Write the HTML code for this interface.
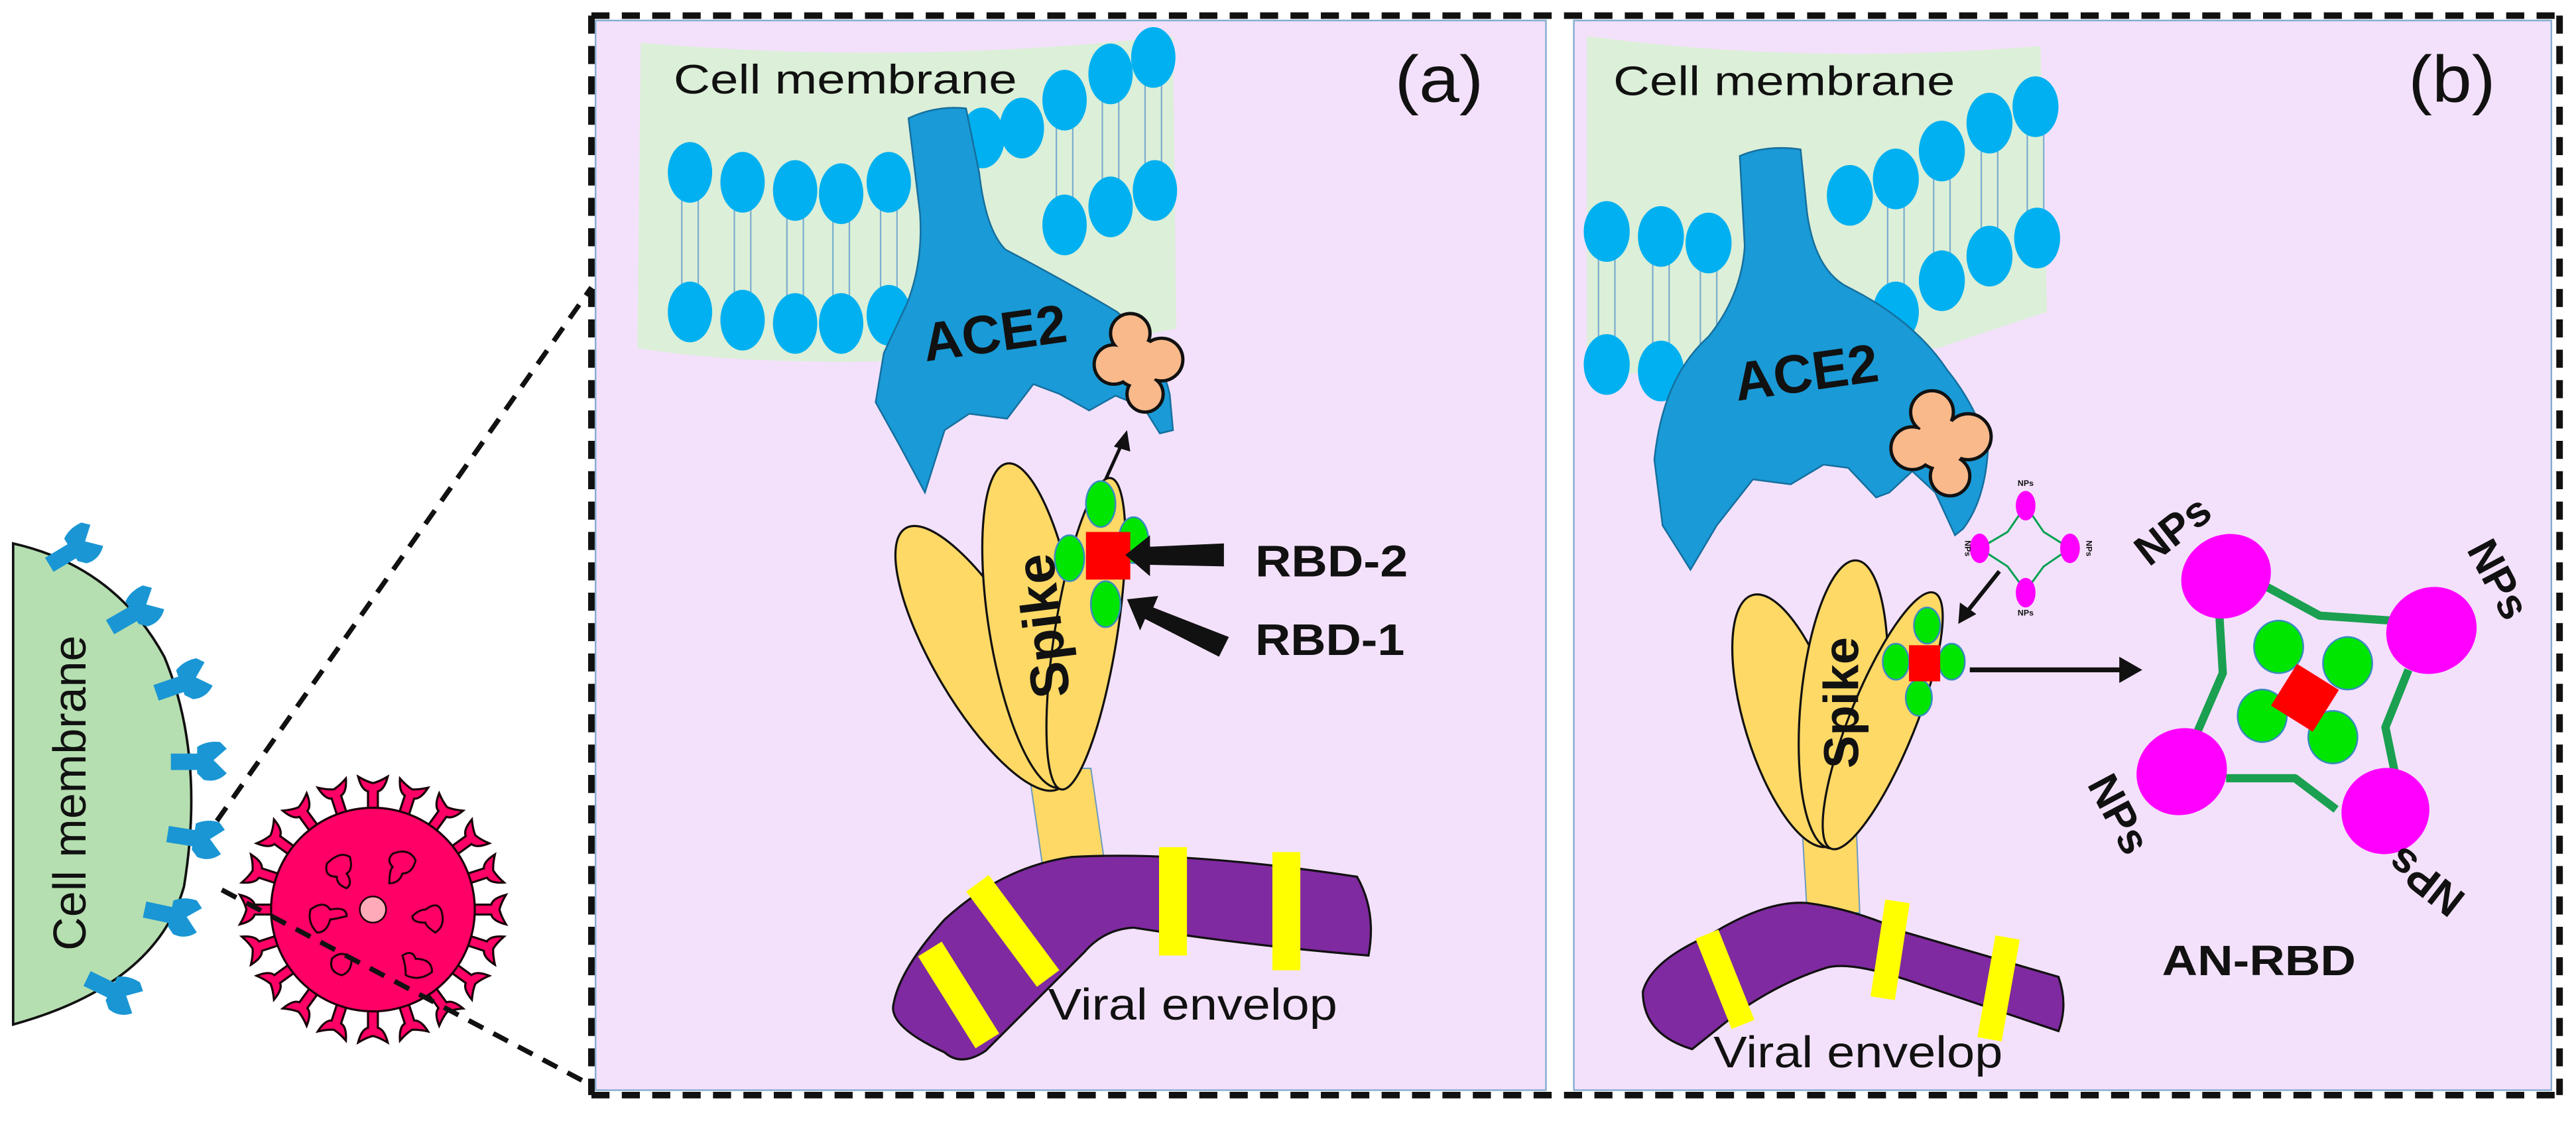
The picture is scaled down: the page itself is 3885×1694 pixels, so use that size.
<!DOCTYPE html>
<html><head><meta charset="utf-8"><style>
html,body{margin:0;padding:0;background:#fff;}
svg{display:block;}
text{font-family:"Liberation Sans",Arial,sans-serif;}
</style></head><body>
<svg width="3885" height="1694" viewBox="0 0 1568 684" preserveAspectRatio="none" xmlns="http://www.w3.org/2000/svg">
<defs>
<path id="vs" d="M-3,-58 L-3,-72 Q-7,-73 -9,-81 Q-4,-78 0,-77 Q4,-78 9,-81 Q7,-73 3,-72 L3,-58 Z" fill="#ff0066" stroke="#1a0008" stroke-width="1.3"/>
<g id="rc">
<rect x="0" y="-5" width="18" height="10" fill="#1a96d4"/>
<path d="M16,-9 Q22,-13 30,-12 L34,-8 L26,-1 L34,7 Q28,13 20,11 L16,7 Z" fill="#1a96d4"/>
</g>
</defs>

<!-- left cell -->
<path d="M8,331 Q70,345 100,400 Q125,460 112,540 Q95,600 8,624 Z" fill="#b5dfb0" stroke="#111" stroke-width="1.5"/>
<text transform="translate(52,483) rotate(-90)" font-size="28" text-anchor="middle" textLength="192" lengthAdjust="spacingAndGlyphs" fill="#111">Cell membrane</text>
<use href="#rc" transform="translate(30,344) rotate(-31)"/>
<use href="#rc" transform="translate(67,382) rotate(-30)"/>
<use href="#rc" transform="translate(95,422) rotate(-19)"/>
<use href="#rc" transform="translate(104,464) rotate(0)"/>
<use href="#rc" transform="translate(102,508) rotate(9)"/>
<use href="#rc" transform="translate(88,554) rotate(12)"/>
<use href="#rc" transform="translate(53,596) rotate(26)"/>

<!-- virus -->
<g transform="translate(227,554)">
<use href="#vs" transform="rotate(0)"/><use href="#vs" transform="rotate(18)"/><use href="#vs" transform="rotate(36)"/><use href="#vs" transform="rotate(54)"/><use href="#vs" transform="rotate(72)"/><use href="#vs" transform="rotate(90)"/><use href="#vs" transform="rotate(108)"/><use href="#vs" transform="rotate(126)"/><use href="#vs" transform="rotate(144)"/><use href="#vs" transform="rotate(162)"/><use href="#vs" transform="rotate(180)"/><use href="#vs" transform="rotate(198)"/><use href="#vs" transform="rotate(216)"/><use href="#vs" transform="rotate(234)"/><use href="#vs" transform="rotate(252)"/><use href="#vs" transform="rotate(270)"/><use href="#vs" transform="rotate(288)"/><use href="#vs" transform="rotate(306)"/><use href="#vs" transform="rotate(324)"/><use href="#vs" transform="rotate(342)"/>
<circle r="62" fill="#ff0066" stroke="#1a0008" stroke-width="1.3"/>
<g fill="none" stroke="#1a0008" stroke-width="1.2">
<path d="M-28,-28 q8,-8 14,-4 q2,8 -2,10 q4,6 0,9 q-6,-2 -6,-7 q-8,0 -6,-8z"/>
<path d="M12,-34 q10,-4 14,4 q-2,8 -8,8 q-2,6 -8,6 q0,-8 2,-10 q-4,-4 0,-8z"/>
<path d="M-38,0 q8,-6 12,0 q10,-2 10,4 q-8,2 -10,2 q-2,8 -8,8 q-6,-6 -4,-14z"/>
<path d="M32,0 q8,-6 10,2 q2,8 -4,12 q-6,-4 -6,-6 q-8,0 -8,-4 q4,-4 8,-4z"/>
<path d="M-25,30 q6,-6 12,0 q0,8 -6,10 q-8,-2 -6,-10z"/>
<path d="M18,28 q6,-4 8,2 q10,0 10,8 q-8,6 -16,2 q0,-6 -2,-12z"/>
</g>
<circle cx="0" cy="0" r="8" fill="#ffaab8" stroke="#1a0008" stroke-width="1"/>
</g>

<!-- connecting dashed lines -->
<g stroke="#111" stroke-width="3" stroke-dasharray="10 7" fill="none">
<line x1="132" y1="500" x2="360" y2="175"/>
<line x1="135" y1="542" x2="358" y2="660"/>
</g>

<!-- panels -->
<rect x="362.5" y="12.5" width="578.5" height="651.5" fill="#f3e1fb" stroke="#86aed0" stroke-width="1"/>
<rect x="958" y="12.5" width="595" height="651.5" fill="#f3e1fb" stroke="#86aed0" stroke-width="1"/>
<g stroke="#111" stroke-width="4" stroke-dasharray="11 7.5" fill="none">
<line x1="360" y1="9.5" x2="1558" y2="9.5"/>
<line x1="360" y1="667" x2="1558" y2="667"/>
<line x1="360" y1="9.5" x2="360" y2="667"/>
<line x1="1558" y1="9.5" x2="1558" y2="667"/>
</g>

<!-- ===== PANEL A ===== -->
<path d="M390,26 Q550,40 714,22 L716,200 Q650,215 540,220 Q450,222 388,212 Z" fill="#dcefd8"/>
<g stroke="#7aaecf" stroke-width="0.9">
<line x1="415" y1="110" x2="415" y2="190"/><line x1="425" y1="110" x2="425" y2="190"/>
<line x1="447" y1="115" x2="447" y2="195"/><line x1="457" y1="115" x2="457" y2="195"/>
<line x1="479" y1="118" x2="479" y2="197"/><line x1="489" y1="118" x2="489" y2="197"/>
<line x1="507" y1="120" x2="507" y2="197"/><line x1="517" y1="120" x2="517" y2="197"/>
<line x1="536" y1="114" x2="536" y2="192"/><line x1="546" y1="114" x2="546" y2="192"/>
<line x1="643" y1="64" x2="643" y2="137"/><line x1="653" y1="64" x2="653" y2="137"/>
<line x1="671" y1="48" x2="671" y2="126"/><line x1="681" y1="48" x2="681" y2="126"/>
<line x1="697" y1="38" x2="697" y2="116"/><line x1="707" y1="38" x2="707" y2="116"/>
</g>
<g fill="#00b0f0">
<ellipse cx="420" cy="105" rx="13.5" ry="18.5"/><ellipse cx="452" cy="111" rx="13.5" ry="18.5"/><ellipse cx="484" cy="116" rx="13.5" ry="18.5"/><ellipse cx="512" cy="118" rx="13.5" ry="18.5"/><ellipse cx="541" cy="111" rx="13.5" ry="18.5"/>
<ellipse cx="420" cy="190" rx="13.5" ry="18.5"/><ellipse cx="452" cy="195" rx="13.5" ry="18.5"/><ellipse cx="484" cy="197" rx="13.5" ry="18.5"/><ellipse cx="512" cy="197" rx="13.5" ry="18.5"/><ellipse cx="541" cy="192" rx="13.5" ry="18.5"/>
<ellipse cx="598" cy="84" rx="13.5" ry="18.5"/><ellipse cx="622" cy="78" rx="13.5" ry="18.5"/><ellipse cx="648" cy="61" rx="13.5" ry="18.5"/><ellipse cx="676" cy="45" rx="13.5" ry="18.5"/><ellipse cx="702" cy="35" rx="13.5" ry="18.5"/>
<ellipse cx="648" cy="137" rx="13.5" ry="18.5"/><ellipse cx="676" cy="126" rx="13.5" ry="18.5"/><ellipse cx="703" cy="116" rx="13.5" ry="18.5"/>
</g>
<text x="410" y="57" font-size="25" textLength="209" lengthAdjust="spacingAndGlyphs" fill="#111">Cell membrane</text>
<text x="849" y="62" font-size="40" textLength="54" lengthAdjust="spacingAndGlyphs" fill="#111">(a)</text>
<!-- ACE2 a -->
<path d="M553,72 Q570,64 588,66 L596,105 Q600,140 612,152 Q650,172 680,190 Q705,210 712,240 L714,262 L706,264 L696,248 L679,241 L663,250 L645,240 L629,234 L613,255 L590,252 L575,262 L563,300 L548,272 L533,245 L538,215 L552,185 Q562,160 560,130 Z" fill="#1a9ad6" stroke="#156f9e" stroke-width="1"/>
<text transform="translate(607,214) rotate(-8)" font-size="33" font-weight="bold" text-anchor="middle" fill="#111">ACE2</text>
<g stroke="#111" stroke-width="4"><circle cx="688" cy="203" r="11"/><circle cx="678" cy="222" r="11"/><circle cx="707" cy="219" r="12"/><circle cx="697" cy="240" r="10"/><circle cx="693" cy="221" r="14"/></g>
<g fill="#f9b98a"><circle cx="688" cy="203" r="11"/><circle cx="678" cy="222" r="11"/><circle cx="707" cy="219" r="12"/><circle cx="697" cy="240" r="10"/><circle cx="693" cy="221" r="14"/></g>
<!-- small arrow -->
<line x1="673" y1="292" x2="683" y2="270" stroke="#111" stroke-width="2"/>
<path d="M686,262 L678,272 L688,275 Z" fill="#111"/>
<!-- stalk + spike a -->
<polygon points="626,468 664,468 673,530 635,530" fill="#ffd966" stroke="#6a9ac0" stroke-width="0.8"/>
<g fill="#ffd966" stroke="#111" stroke-width="1.3">
<ellipse cx="598" cy="401" rx="29" ry="92" transform="rotate(-30.5 598 401)"/>
<ellipse cx="629" cy="381" rx="27" ry="100" transform="rotate(-9.2 629 381)"/>
<ellipse cx="661" cy="386" rx="19" ry="96" transform="rotate(9 661 386)"/>
</g>
<text transform="translate(646,380) rotate(-97)" font-size="33" font-weight="bold" text-anchor="middle" fill="#111">Spike</text>
<g fill="#00e600" stroke="#3a8ac0" stroke-width="1"><ellipse cx="670" cy="307" rx="9" ry="14"/><ellipse cx="651" cy="340" rx="9" ry="14"/><ellipse cx="690" cy="329" rx="9" ry="14"/><ellipse cx="673" cy="368" rx="9" ry="14"/></g>
<rect x="661" y="324" width="27" height="29" fill="#ff0000"/>
<!-- RBD arrows -->
<g fill="#111">
<polygon points="745,331 745,345 700,344 700,351 685,338 700,326 700,333"/>
<polygon points="748,388 742,400 697,377 694,384 686,365 705,363 702,370"/>
</g>
<text x="764" y="351" font-size="27" font-weight="bold" textLength="93" lengthAdjust="spacingAndGlyphs" fill="#111">RBD-2</text>
<text x="764" y="399" font-size="27" font-weight="bold" textLength="91" lengthAdjust="spacingAndGlyphs" fill="#111">RBD-1</text>
<!-- envelope a -->
<path d="M544,611 Q548,590 575,560 Q610,528 652,522 Q720,518 826,534 Q838,555 833,582 Q760,576 690,565 Q672,566 660,580 L600,640 Q585,650 575,641 Q540,625 544,611 Z" fill="#7f2aa0" stroke="#111" stroke-width="1.3"/>
<g stroke="#ffff00" stroke-width="17">
<line x1="566" y1="578" x2="601" y2="634"/>
<line x1="595" y1="538" x2="638" y2="596"/>
<line x1="714" y1="516" x2="714" y2="582"/>
<line x1="783" y1="519" x2="783" y2="591"/>
</g>
<text x="638" y="621" font-size="27" textLength="176" lengthAdjust="spacingAndGlyphs" fill="#111">Viral envelop</text>

<!-- ===== PANEL B ===== -->
<path d="M966,22 Q1100,40 1242,28 L1246,190 Q1200,205 1180,212 L966,230 Z" fill="#dcefd8"/>
<g stroke="#7aaecf" stroke-width="0.9">
<line x1="973" y1="150" x2="973" y2="222"/><line x1="983" y1="150" x2="983" y2="222"/>
<line x1="1006" y1="152" x2="1006" y2="226"/><line x1="1016" y1="152" x2="1016" y2="226"/>
<line x1="1035" y1="155" x2="1035" y2="228"/><line x1="1045" y1="155" x2="1045" y2="228"/>
<line x1="1149" y1="110" x2="1149" y2="183"/><line x1="1159" y1="110" x2="1159" y2="183"/>
<line x1="1177" y1="95" x2="1177" y2="171"/><line x1="1187" y1="95" x2="1187" y2="171"/>
<line x1="1206" y1="78" x2="1206" y2="156"/><line x1="1216" y1="78" x2="1216" y2="156"/>
<line x1="1234" y1="68" x2="1234" y2="145"/><line x1="1244" y1="68" x2="1244" y2="145"/>
</g>
<g fill="#00b0f0">
<ellipse cx="978" cy="141" rx="14" ry="18.5"/><ellipse cx="1011" cy="144" rx="14" ry="18.5"/><ellipse cx="1040" cy="148" rx="14" ry="18.5"/>
<ellipse cx="978" cy="222" rx="14" ry="18.5"/><ellipse cx="1011" cy="226" rx="14" ry="18.5"/><ellipse cx="1040" cy="229" rx="14" ry="18.5"/>
<ellipse cx="1126" cy="119" rx="14" ry="18.5"/><ellipse cx="1154" cy="109" rx="14" ry="18.5"/><ellipse cx="1182" cy="92" rx="14" ry="18.5"/><ellipse cx="1211" cy="75" rx="14" ry="18.5"/><ellipse cx="1239" cy="65" rx="14" ry="18.5"/>
<ellipse cx="1154" cy="190" rx="14" ry="18.5"/><ellipse cx="1182" cy="171" rx="14" ry="18.5"/><ellipse cx="1211" cy="156" rx="14" ry="18.5"/><ellipse cx="1240" cy="145" rx="14" ry="18.5"/>
</g>
<text x="982" y="58" font-size="25" textLength="208" lengthAdjust="spacingAndGlyphs" fill="#111">Cell membrane</text>
<text x="1466" y="62" font-size="40" textLength="53" lengthAdjust="spacingAndGlyphs" fill="#111">(b)</text>
<!-- ACE2 b -->
<path d="M1059,95 Q1075,88 1096,91 L1100,130 Q1105,165 1125,175 Q1165,195 1185,225 Q1205,250 1210,275 Q1208,305 1195,322 L1190,326 L1178,300 L1164,287 L1150,300 L1142,303 L1125,285 L1110,283 L1090,295 L1067,292 L1045,320 L1029,347 L1012,320 L1007,280 Q1012,230 1040,205 Q1060,180 1062,150 Z" fill="#1a9ad6" stroke="#156f9e" stroke-width="1"/>
<text transform="translate(1101,238) rotate(-8)" font-size="33" font-weight="bold" text-anchor="middle" fill="#111">ACE2</text>
<g stroke="#111" stroke-width="4"><circle cx="1176" cy="251" r="12"/><circle cx="1164" cy="273" r="12"/><circle cx="1198" cy="266" r="13"/><circle cx="1187" cy="290" r="11"/><circle cx="1181" cy="270" r="15"/></g>
<g fill="#f9b98a"><circle cx="1176" cy="251" r="12"/><circle cx="1164" cy="273" r="12"/><circle cx="1198" cy="266" r="13"/><circle cx="1187" cy="290" r="11"/><circle cx="1181" cy="270" r="15"/></g>
<!-- small NP -->
<g fill="none" stroke="#00a050" stroke-width="1.2">
<polyline points="1233,308 1222,324 1205,334 1222,345 1233,360 1244,345 1260,334 1244,324 1233,308"/>
</g>
<g fill="#ff00ff"><ellipse cx="1233" cy="308" rx="6" ry="9"/><ellipse cx="1205" cy="334" rx="6" ry="9"/><ellipse cx="1260" cy="334" rx="6" ry="9"/><ellipse cx="1233" cy="361" rx="6" ry="9"/></g>
<g font-size="5" font-weight="bold" fill="#111" text-anchor="middle">
<text x="1233" y="296">NPs</text><text x="1233" y="375">NPs</text>
<text transform="translate(1196,334) rotate(90)">NPs</text><text transform="translate(1270,334) rotate(90)">NPs</text>
</g>
<line x1="1217" y1="348" x2="1197" y2="373" stroke="#111" stroke-width="2.5"/>
<path d="M1192,380 L1193,367 L1203,374 Z" fill="#111"/>
<!-- stalk + spike b -->
<polygon points="1097,505 1130,505 1132,556 1100,556" fill="#ffd966" stroke="#6a9ac0" stroke-width="0.8"/>
<g fill="#ffd966" stroke="#111" stroke-width="1.3">
<ellipse cx="1090" cy="439" rx="28" ry="80" transform="rotate(-17 1090 439)"/>
<ellipse cx="1122" cy="429" rx="26" ry="88" transform="rotate(5.3 1122 429)"/>
<ellipse cx="1146" cy="439" rx="20" ry="84" transform="rotate(22 1146 439)"/>
</g>
<text transform="translate(1131,428) rotate(-90)" font-size="30" font-weight="bold" text-anchor="middle" fill="#111">Spike</text>
<g fill="#00e600" stroke="#3a8ac0" stroke-width="1"><ellipse cx="1173" cy="381" rx="8" ry="11"/><ellipse cx="1154" cy="403" rx="8" ry="11"/><ellipse cx="1188" cy="403" rx="8" ry="11"/><ellipse cx="1168" cy="425" rx="8" ry="11"/></g>
<rect x="1162" y="393" width="19" height="22" fill="#ff0000"/>
<line x1="1199" y1="408" x2="1292" y2="408" stroke="#111" stroke-width="3"/>
<path d="M1304,408 L1290,400 L1290,416 Z" fill="#111"/>
<!-- AN-RBD big -->
<g fill="none" stroke="#1aa050" stroke-width="5" stroke-linejoin="round">
<polyline points="1351,376 1353,410 1337,447"/>
<polyline points="1379,357 1412,375 1456,378"/>
<polyline points="1466,408 1452,443 1458,472"/>
<polyline points="1355,474 1397,474 1422,493"/>
<line x1="1455" y1="505" x2="1462" y2="518"/>
</g>
<g fill="#ff00ff">
<ellipse cx="1355" cy="351" rx="28" ry="25" transform="rotate(-30 1355 351)"/>
<ellipse cx="1480" cy="384" rx="28" ry="26" transform="rotate(-30 1480 384)"/>
<ellipse cx="1328" cy="470" rx="28" ry="26" transform="rotate(-30 1328 470)"/>
<ellipse cx="1452" cy="494" rx="27" ry="26" transform="rotate(-30 1452 494)"/>
</g>
<g fill="#00e600" stroke="#3a8ac0" stroke-width="1"><ellipse cx="1387" cy="394" rx="15" ry="16"/><ellipse cx="1429" cy="404" rx="15" ry="16"/><ellipse cx="1377" cy="436" rx="15" ry="16"/><ellipse cx="1420" cy="449" rx="15" ry="16"/></g>
<rect x="1388" y="410" width="30" height="30" fill="#ff0000" transform="rotate(32 1403 425)"/>
<g font-size="26" font-weight="bold" fill="#111" text-anchor="middle">
<text transform="translate(1328,330) rotate(-38)">NPs</text>
<text transform="translate(1513,357) rotate(62)">NPs</text>
<text transform="translate(1282,500) rotate(62)">NPs</text>
<text transform="translate(1482,530) rotate(-142)">NPs</text>
</g>
<text x="1316" y="594" font-size="26" font-weight="bold" textLength="118" lengthAdjust="spacingAndGlyphs" fill="#111">AN-RBD</text>
<!-- envelope b -->
<path d="M1000,604 Q1005,585 1040,570 Q1075,548 1100,550 Q1130,554 1160,568 L1253,595 Q1259,612 1253,628 L1170,600 Q1125,584 1110,590 Q1085,598 1060,615 L1030,639 Q1000,630 1000,604 Z" fill="#7f2aa0" stroke="#111" stroke-width="1.3"/>
<g stroke="#ffff00" stroke-width="15">
<line x1="1039" y1="569" x2="1061" y2="624"/>
<line x1="1155" y1="549" x2="1146" y2="608"/>
<line x1="1222" y1="571" x2="1211" y2="633"/>
</g>
<text x="1043" y="650" font-size="27" textLength="176" lengthAdjust="spacingAndGlyphs" fill="#111">Viral envelop</text>
</svg>
</body></html>
